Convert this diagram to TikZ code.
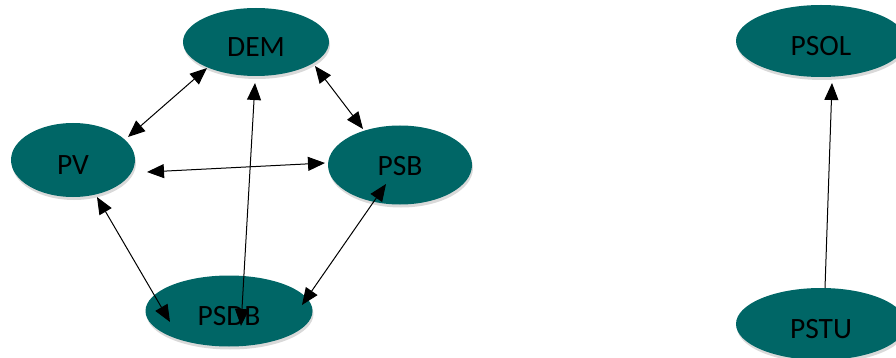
\documentclass[tikz,border=0pt]{standalone}
\usepackage{fontspec}
\setmainfont{Carlito}
\usetikzlibrary{shapes.geometric,arrows.meta,shadows}
\definecolor{tealfill}{RGB}{0,102,102}
\begin{document}
\begin{tikzpicture}[x=1pt,y=-1pt,
  bubble/.style={ellipse, fill=tealfill, draw=none, inner sep=0pt,
    font=\fontsize{29.5}{33}\selectfont, text=black,
    text height=29pt, text depth=0pt,
    drop shadow={shadow xshift=1pt, shadow yshift=-3pt, opacity=0.15, fill=black}},
  link/.style={line width=1pt, {Triangle[length=17pt,width=14pt]}-{Triangle[length=17pt,width=14pt]}},
  oneway/.style={line width=1pt, -{Triangle[length=17pt,width=14pt]}}]
\useasboundingbox (0,0) rectangle (896,358);
\node[bubble, minimum width=146pt, minimum height=68pt] (dem) at (256,42) {DEM};
\node[bubble, minimum width=124pt, minimum height=74pt] (pv) at (73,160) {PV};
\node[bubble, minimum width=144pt, minimum height=79pt, text height=21pt] (psb) at (400,165) {PSB};
\node[bubble, minimum width=167pt, minimum height=71pt] (psdb) at (229,311) {PSDB};
\node[bubble, minimum width=170pt, minimum height=72pt] (psol) at (821,41) {PSOL};
\node[bubble, minimum width=170pt, minimum height=72pt] (pstu) at (821,324) {PSTU};
% connectors
\draw[link] ([shift={(-49,26)}]dem.center) -- ([shift={(55,-23)}]pv.center);
\draw[link] ([shift={(59,24)}]dem.center) -- ([shift={(-37,-36)}]psb.center);
\draw[link] ([shift={(74,12)}]pv.center) -- ([shift={(-75,-2)}]psb.center);
\draw[link] ([shift={(24,37)}]pv.center) -- ([shift={(-59,11)}]psdb.center);
\draw[link] ([shift={(73,-6)}]psdb.center) -- ([shift={(-14,19)}]psb.center);
\draw[link] ([shift={(-1,41)}]dem.center) -- ([shift={(12,15)}]psdb.center);
\draw[oneway] ([shift={(4,-36)}]pstu.center) -- ([shift={(11,42)}]psol.center);
\end{tikzpicture}
\end{document}
